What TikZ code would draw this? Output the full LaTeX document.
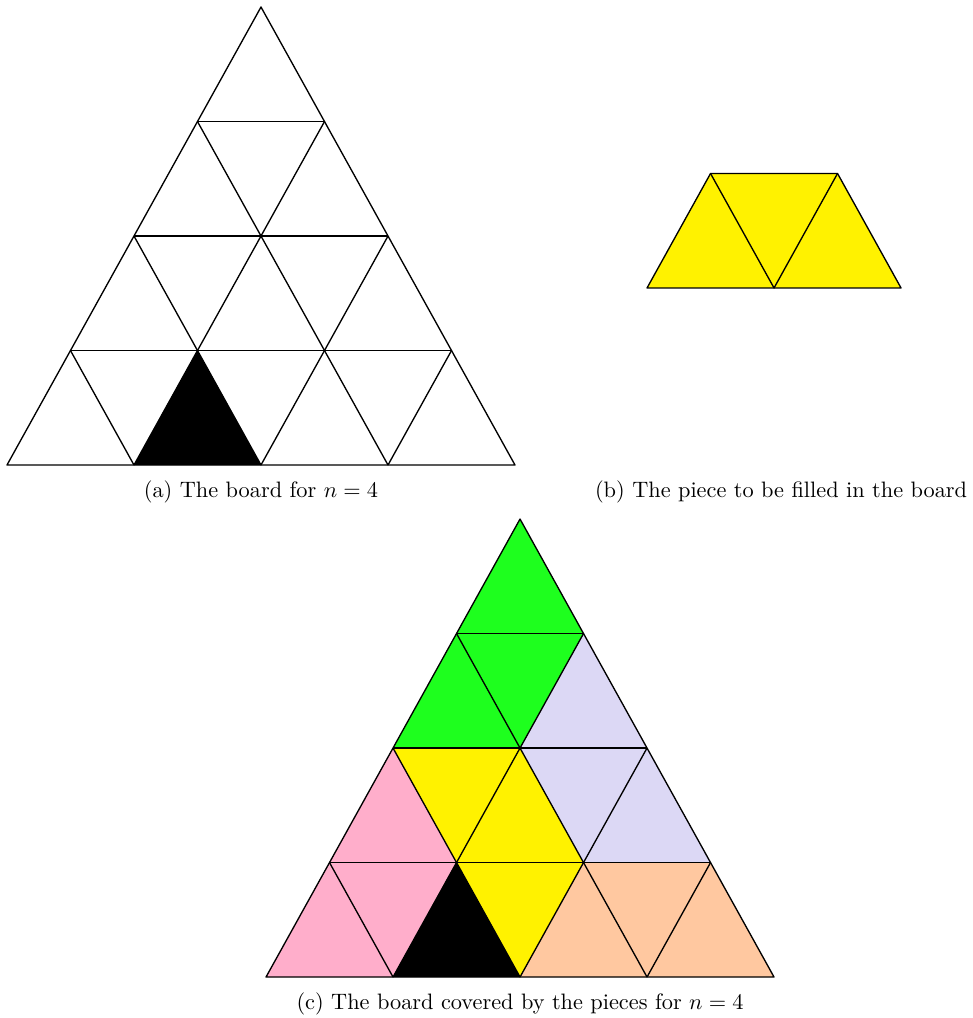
\documentclass[tikz,border=0pt]{standalone}
\usepackage{amsmath,amssymb}
\usetikzlibrary{positioning}
\definecolor{gruen}{HTML}{1EFF1E}
\definecolor{gelb}{HTML}{FFF200}
\definecolor{lila}{HTML}{DCD8F5}
\definecolor{rosa}{HTML}{FFAECB}
\definecolor{pfirsich}{HTML}{FFC8A0}
\tikzset{
  gitter/.style={draw,line width=0.6pt,line join=round},
  felt/.style={line width=0.6pt,line join=round},
  capt/.style={inner sep=0pt,font=\normalsize},
}

\begin{document}
\begin{tikzpicture}[x=2cm,y=1.8031cm]
  \useasboundingbox (0cm,0cm) rectangle (15.307cm,-16.031cm);
  % (a) the board
  \begin{scope}[shift={(0.110cm,-7.323cm)}]
    \fill (1,0) -- (2,0) -- (1.5,1) -- cycle;
    \draw[gitter] (0,0) -- (4,0) -- (2,4) -- cycle;
    \foreach \k in {1,2,3} {
      \draw[felt] (\k/2,\k) -- ({4-\k/2},\k);
      \draw[felt] (\k,0) -- ({\k+(4-\k)/2},{4-\k});
      \draw[felt] (\k,0) -- ({\k/2},\k);
    }
  \end{scope}
  \node[capt] (capa) at (4.110cm,-7.748cm) {(a) The board for $n=4$};
  % (b) the piece
  \begin{scope}[shift={(10.189cm,-4.535cm)}]
    \filldraw[gitter,fill=gelb] (0,0) -- (2,0) -- (1.5,1) -- (0.5,1) -- cycle;
    \draw[felt] (0.5,1) -- (1,0) -- (1.5,1);
  \end{scope}
  \node[capt] (capb) at (12.30cm,-7.748cm) {(b) The piece to be filled in the board};
  % (c) the covering
  \begin{scope}[shift={(4.189cm,-15.386cm)}]
    \fill[gruen] (1.5,3) -- (2.5,3) -- (2,4) -- cycle;
    \fill[gruen] (1.5,3) -- (2.5,3) -- (2,2) -- cycle;
    \fill[gruen] (1,2) -- (2,2) -- (1.5,3) -- cycle;
    \fill[lila] (2,2) -- (3,2) -- (2.5,3) -- cycle;
    \fill[lila] (2.5,1) -- (3.5,1) -- (3,2) -- cycle;
    \fill[lila] (2,2) -- (3,2) -- (2.5,1) -- cycle;
    \fill[gelb] (1.5,1) -- (2.5,1) -- (2,2) -- cycle;
    \fill[gelb] (1,2) -- (2,2) -- (1.5,1) -- cycle;
    \fill[gelb] (1.5,1) -- (2.5,1) -- (2,0) -- cycle;
    \fill[rosa] (0.5,1) -- (1.5,1) -- (1,2) -- cycle;
    \fill[rosa] (0,0) -- (1,0) -- (0.5,1) -- cycle;
    \fill[rosa] (0.5,1) -- (1.5,1) -- (1,0) -- cycle;
    \fill[pfirsich] (2,0) -- (3,0) -- (2.5,1) -- cycle;
    \fill[pfirsich] (2.5,1) -- (3.5,1) -- (3,0) -- cycle;
    \fill[pfirsich] (3,0) -- (4,0) -- (3.5,1) -- cycle;
    \fill (1,0) -- (2,0) -- (1.5,1) -- cycle;
    \draw[gitter] (0,0) -- (4,0) -- (2,4) -- cycle;
    \foreach \k in {1,2,3} {
      \draw[felt] (\k/2,\k) -- ({4-\k/2},\k);
      \draw[felt] (\k,0) -- ({\k+(4-\k)/2},{4-\k});
      \draw[felt] (\k,0) -- ({\k/2},\k);
    }
  \end{scope}
  \node[capt] (capc) at (8.189cm,-15.811cm) {(c) The board covered by the pieces for $n=4$};
\end{tikzpicture}
\end{document}
